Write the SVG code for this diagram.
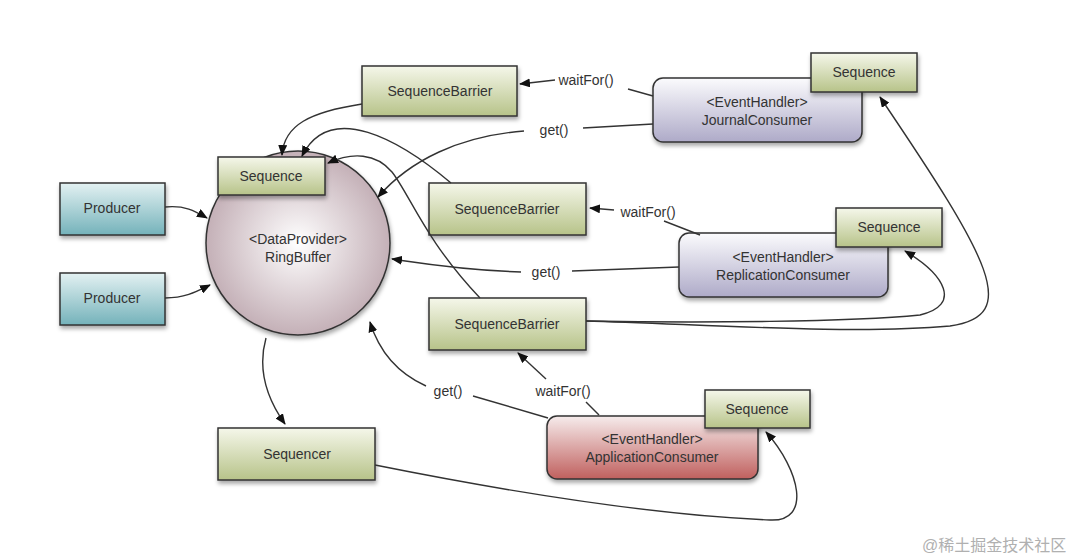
<svg xmlns="http://www.w3.org/2000/svg" width="1080" height="560" viewBox="0 0 1080 560">
<defs>
<linearGradient id="gGreen" x1="0" y1="0" x2="0" y2="1"><stop offset="0" stop-color="#f5f7ea"/><stop offset="1" stop-color="#b7c389"/></linearGradient>
<linearGradient id="gTeal" x1="0" y1="0" x2="0" y2="1"><stop offset="0" stop-color="#e3f1f2"/><stop offset="1" stop-color="#74b2ba"/></linearGradient>
<linearGradient id="gLav" x1="0" y1="0" x2="0" y2="1"><stop offset="0" stop-color="#fbfbfd"/><stop offset="1" stop-color="#aeaac8"/></linearGradient>
<linearGradient id="gRed" x1="0" y1="0" x2="0" y2="1"><stop offset="0" stop-color="#f6ecec"/><stop offset="1" stop-color="#c0605e"/></linearGradient>
<radialGradient id="gRing" cx="0.5" cy="0.5" r="0.5"><stop offset="0" stop-color="#ffffff"/><stop offset="1" stop-color="#c4b0b7"/></radialGradient>
<filter id="sh" x="-10%" y="-10%" width="130%" height="140%"><feDropShadow dx="1" dy="3" stdDeviation="2" flood-color="#000" flood-opacity="0.35"/></filter>
<marker id="ar" markerUnits="userSpaceOnUse" markerWidth="11" markerHeight="9" refX="10" refY="4.5" orient="auto"><path d="M0,0 L11,4.5 L0,9 z" fill="#111"/></marker>
</defs>
<style>
.box{stroke:#333;stroke-width:1.5;filter:url(#sh)}
.t{font-family:"Liberation Sans",Arial,sans-serif;font-size:14px;fill:#333;text-anchor:middle}
.lbl{font-family:"Liberation Sans",Arial,sans-serif;font-size:14px;fill:#333;text-anchor:middle}
.c{fill:none;stroke:#333;stroke-width:1.4}
.a{marker-end:url(#ar)}
.wm{font-family:"Liberation Sans","Noto Sans CJK SC",sans-serif;font-size:16px;fill:#b0b0b0}
</style>
<rect width="1080" height="560" fill="#ffffff"/>
<g id="producer1"><rect class="box" x="60" y="183" width="105" height="52" fill="url(#gTeal)"/><text class="t" x="112" y="213">Producer</text></g>
<g id="producer2"><rect class="box" x="60" y="273" width="105" height="52" fill="url(#gTeal)"/><text class="t" x="112" y="303">Producer</text></g>
<g id="ringbuffer"><circle class="box" cx="298" cy="243" r="92" fill="url(#gRing)"/><text class="t" x="298" y="244">&lt;DataProvider&gt;</text><text class="t" x="298" y="262">RingBuffer</text></g>
<g id="ringSequence"><rect class="box" x="218" y="157" width="107" height="38" fill="url(#gGreen)"/><text class="t" x="271" y="181">Sequence</text></g>
<g id="barrier1"><rect class="box" x="362" y="66" width="155" height="50" fill="url(#gGreen)"/><text class="t" x="440" y="96">SequenceBarrier</text></g>
<g id="barrier2"><rect class="box" x="429" y="183" width="157" height="52" fill="url(#gGreen)"/><text class="t" x="507" y="214">SequenceBarrier</text></g>
<g id="barrier3"><rect class="box" x="429" y="298" width="157" height="52" fill="url(#gGreen)"/><text class="t" x="507" y="329">SequenceBarrier</text></g>
<g id="sequencer"><rect class="box" x="218" y="428" width="157" height="52" fill="url(#gGreen)"/><text class="t" x="297" y="459">Sequencer</text></g>
<g id="journalConsumer"><rect class="box" x="653" y="78" width="209" height="64" rx="10" fill="url(#gLav)"/><text class="t" x="757" y="107">&lt;EventHandler&gt;</text><text class="t" x="757" y="125">JournalConsumer</text></g>
<g id="journalSequence"><rect class="box" x="811" y="53" width="106" height="39" fill="url(#gGreen)"/><text class="t" x="864" y="77">Sequence</text></g>
<g id="replicationConsumer"><rect class="box" x="679" y="233" width="209" height="64" rx="10" fill="url(#gLav)"/><text class="t" x="783" y="262">&lt;EventHandler&gt;</text><text class="t" x="783" y="280">ReplicationConsumer</text></g>
<g id="replicationSequence"><rect class="box" x="836" y="208" width="106" height="39" fill="url(#gGreen)"/><text class="t" x="889" y="232">Sequence</text></g>
<g id="applicationConsumer"><rect class="box" x="547" y="416" width="211" height="63" rx="10" fill="url(#gRed)"/><text class="t" x="652" y="444">&lt;EventHandler&gt;</text><text class="t" x="652" y="462">ApplicationConsumer</text></g>
<g id="applicationSequence"><rect class="box" x="705" y="390" width="105" height="38" fill="url(#gGreen)"/><text class="t" x="757" y="414">Sequence</text></g>
<g id="connectors">
<path class="c a" d="M165,207 C185,205 195,211 207,218"/>
<path class="c a" d="M165,298 C185,298 196,292 210,285"/>
<path class="c a" d="M266,338 C257,370 268,400 285,424"/>
<path class="c a" d="M362,104 C310,112 284,125 282,155"/>
<path class="c a" d="M451,183 C400,140 330,100 302,156"/>
<path class="c a" d="M480,298 C425,240 410,195 392,172 C376,153 352,152 328,163"/>
<path class="c" d="M653,124 L583,128"/>
<path class="c a" d="M524,131 C460,136 410,160 378,197"/>
<path class="c" d="M653,96 L628,89"/>
<path class="c a" d="M555,80 L520,84"/>
<path class="c" d="M700,235 L664,221"/>
<path class="c a" d="M614,210 L590,208"/>
<path class="c" d="M679,267 L572,271"/>
<path class="c a" d="M521,272 C460,270 420,263 392,259"/>
<path class="c" d="M548,418 L473,396"/>
<path class="c a" d="M426,386 C395,372 378,348 370,322"/>
<path class="c" d="M599,415 L586,402"/>
<path class="c a" d="M546,379 L518,353"/>
<path class="c a" d="M375,465 C500,490 650,515 770,520 C812,522 800,470 766,432"/>
<path class="c a" d="M586,321 C700,323 850,322 920,315 C962,305 945,275 905,251"/>
<path class="c a" d="M586,321 C700,324 850,335 950,326 C1022,316 990,260 880,97"/>
</g>
<g id="labels">
<text class="lbl" x="586" y="85">waitFor()</text>
<text class="lbl" x="554" y="135">get()</text>
<text class="lbl" x="648" y="217">waitFor()</text>
<text class="lbl" x="546" y="277">get()</text>
<text class="lbl" x="448" y="396">get()</text>
<text class="lbl" x="563" y="396">waitFor()</text>
</g>
<text class="wm" x="922" y="551">@稀土掘金技术社区</text>
</svg>
